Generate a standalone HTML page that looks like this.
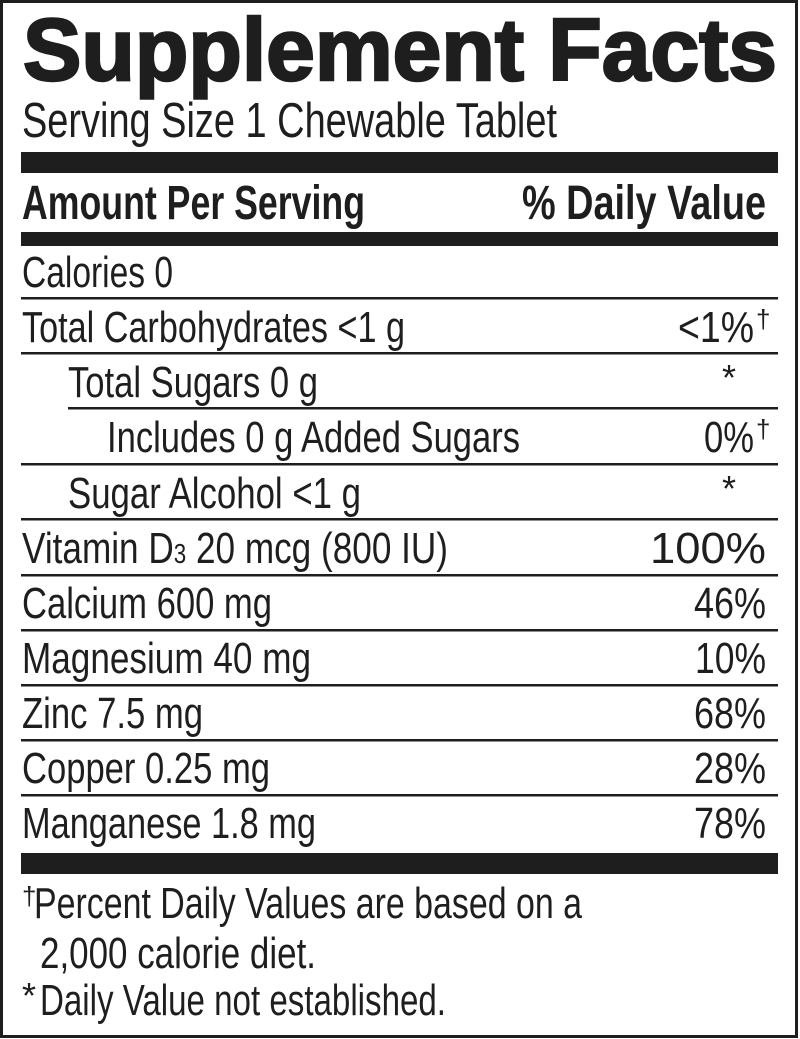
<!DOCTYPE html>
<html><head><meta charset="utf-8"><style>
html,body{margin:0;padding:0;background:#fff}
svg{display:block}
text{font-family:"Liberation Sans",Arial,sans-serif;fill:#1e1e1e}
.r{font-size:44px}
.b{font-weight:bold}
</style></head><body>
<svg width="800" height="1039" viewBox="0 0 800 1039" xmlns="http://www.w3.org/2000/svg">
<rect x="1.5" y="1.5" width="795" height="1035" fill="none" stroke="#1e1e1e" stroke-width="3"/>
<text x="23" y="80" class="b" font-size="88" textLength="754" lengthAdjust="spacingAndGlyphs" stroke="#1e1e1e" stroke-width="2.5">Supplement Facts</text>
<text x="22" y="137" font-size="49" textLength="535" lengthAdjust="spacingAndGlyphs">Serving Size 1 Chewable Tablet</text>
<rect x="21" y="152" width="757" height="21" fill="#1e1e1e"/>
<text x="22" y="219" class="b" font-size="48" textLength="343" lengthAdjust="spacingAndGlyphs">Amount Per Serving</text>
<text x="522" y="219" class="b" font-size="48" textLength="244" lengthAdjust="spacingAndGlyphs">% Daily Value</text>
<rect x="21" y="232" width="757" height="14" fill="#1e1e1e"/>
<g fill="#1e1e1e">
<rect x="21" y="297" width="757" height="2.5"/>
<rect x="21" y="352" width="757" height="2.5"/>
<rect x="68" y="407" width="710" height="2.5"/>
<rect x="21" y="463" width="757" height="2.5"/>
<rect x="21" y="518" width="757" height="2.5"/>
<rect x="21" y="574" width="757" height="2.5"/>
<rect x="21" y="629" width="757" height="2.5"/>
<rect x="21" y="684" width="757" height="2.5"/>
<rect x="21" y="739" width="757" height="2.5"/>
<rect x="21" y="794" width="757" height="2.5"/>
<rect x="21" y="853" width="757" height="21"/>
</g>
<g class="r">
<text x="22" y="287" textLength="151" lengthAdjust="spacingAndGlyphs">Calories 0</text>
<text x="22" y="342" textLength="383" lengthAdjust="spacingAndGlyphs">Total Carbohydrates &lt;1 g</text>
<text x="678" y="342" textLength="76" lengthAdjust="spacingAndGlyphs">&lt;1%</text>
<text x="756" y="328" font-size="26">†</text>
<text x="68" y="397" textLength="250" lengthAdjust="spacingAndGlyphs">Total Sugars 0 g</text>
<text x="722" y="390" font-size="36">*</text>
<text x="107" y="452" textLength="413" lengthAdjust="spacingAndGlyphs">Includes 0 g Added Sugars</text>
<text x="704" y="452" textLength="50" lengthAdjust="spacingAndGlyphs">0%</text>
<text x="756" y="438" font-size="26">†</text>
<text x="68" y="508" textLength="293" lengthAdjust="spacingAndGlyphs">Sugar Alcohol &lt;1 g</text>
<text x="722" y="501" font-size="36">*</text>
<text x="22" y="563" textLength="426" lengthAdjust="spacingAndGlyphs">Vitamin D<tspan font-size="28">3</tspan> 20 mcg (800 IU)</text>
<text x="650" y="563" textLength="116" lengthAdjust="spacingAndGlyphs">100%</text>
<text x="22" y="618" textLength="250" lengthAdjust="spacingAndGlyphs">Calcium 600 mg</text>
<text x="694" y="618" textLength="72" lengthAdjust="spacingAndGlyphs">46%</text>
<text x="22" y="673" textLength="289" lengthAdjust="spacingAndGlyphs">Magnesium 40 mg</text>
<text x="695" y="673" textLength="71" lengthAdjust="spacingAndGlyphs">10%</text>
<text x="22" y="728" textLength="181" lengthAdjust="spacingAndGlyphs">Zinc 7.5 mg</text>
<text x="694" y="728" textLength="72" lengthAdjust="spacingAndGlyphs">68%</text>
<text x="22" y="783" textLength="248" lengthAdjust="spacingAndGlyphs">Copper 0.25 mg</text>
<text x="694" y="783" textLength="72" lengthAdjust="spacingAndGlyphs">28%</text>
<text x="22" y="838" textLength="294" lengthAdjust="spacingAndGlyphs">Manganese 1.8 mg</text>
<text x="694" y="838" textLength="72" lengthAdjust="spacingAndGlyphs">78%</text>
<text x="22" y="905" font-size="26">†</text>
<text x="34" y="918" textLength="548" lengthAdjust="spacingAndGlyphs">Percent Daily Values are based on a</text>
<text x="40" y="968" textLength="276" lengthAdjust="spacingAndGlyphs">2,000 calorie diet.</text>
<text x="22" y="1008" font-size="36">*</text>
<text x="40" y="1015" textLength="406" lengthAdjust="spacingAndGlyphs">Daily Value not established.</text>
</g>
</svg>
</body></html>
